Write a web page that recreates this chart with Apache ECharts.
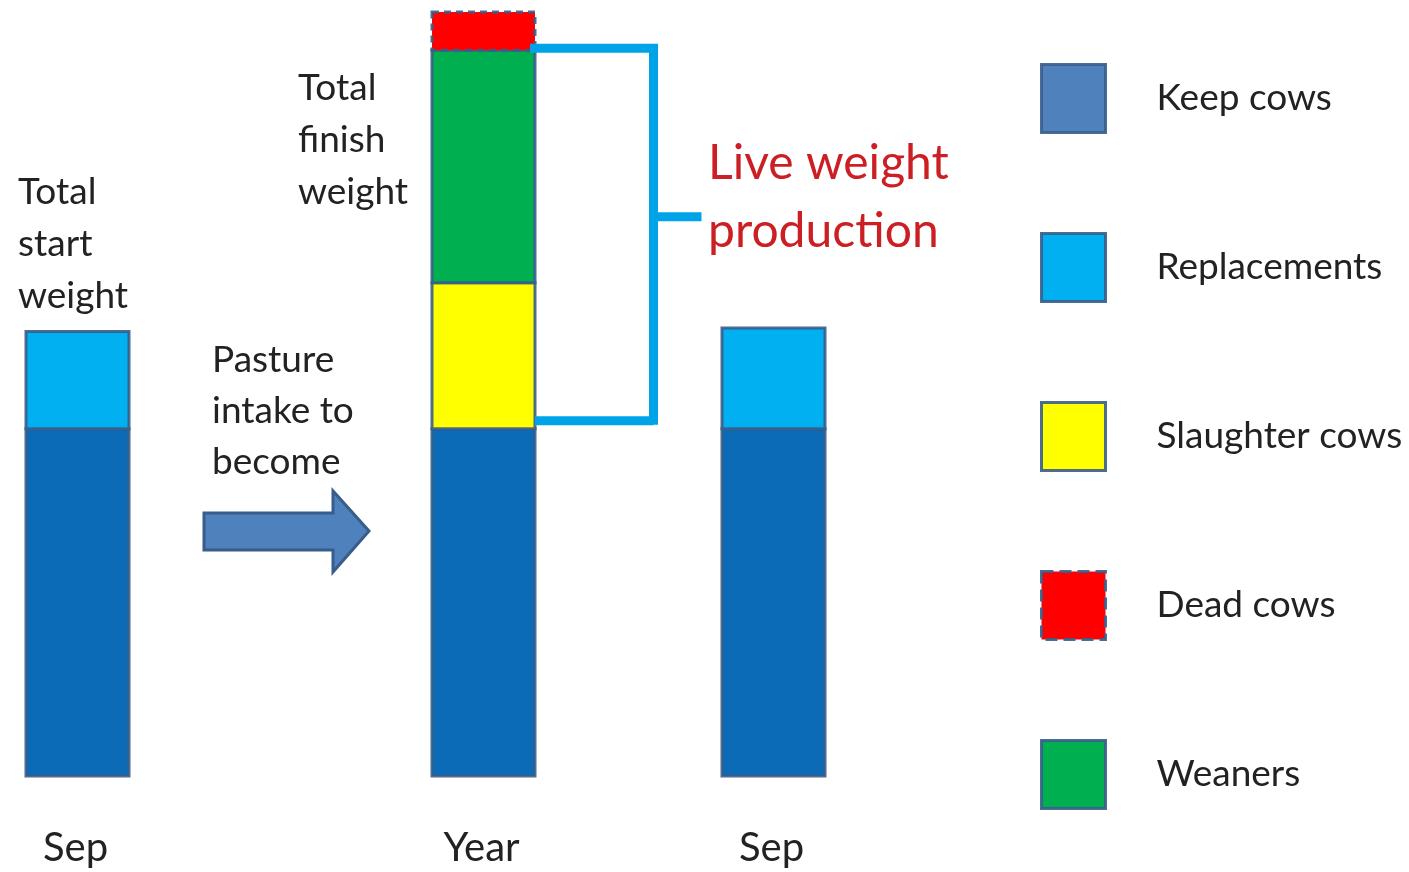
<!DOCTYPE html>
<html>
<head>
<meta charset="utf-8">
<title>Live weight production</title>
<script src="https://cdn.jsdelivr.net/npm/echarts@6/dist/echarts.min.js"></script>
<style>
  html, body { margin: 0; padding: 0; background: #ffffff; }
  #chart { width: 1409px; height: 872px; }
</style>
</head>
<body>
<div id="chart"></div>
<script>
// Columns: start of season, whole year, end of season
const periods = ['Sep', 'Year', 'Sep'];
const periodPos = [0.775, 4.835, 7.735];   // position of each column on the x axis

// Live weight by class of stock (relative units)
const keepCows      = [100, 100, 100];
const replacements  = [28, 0, 29];
const slaughterCows = [0, 42, 0];
const weaners       = [0, 67, 0];
const deadCows      = [0, 11, 0];

const classNames = ['Keep cows', 'Replacements', 'Slaughter cows', 'Weaners', 'Dead cows'];
const classValues = [keepCows, replacements, slaughterCows, weaners, deadCows];
const barColors = ['#0b6bb7', '#00b0f0', '#ffff00', '#00b050', '#ff0000'];
const legendColors = ['#4f81bd', '#00b0f0', '#ffff00', '#00b050', '#ff0000'];
const legendOrder = ['Keep cows', 'Replacements', 'Slaughter cows', 'Dead cows', 'Weaners'];

const FONT = 'Lato, "Open Sans", sans-serif';
const HALF_W = 0.515;
const BORDER = 'rgba(56,93,138,0.9)';
const TEXT = '#222222';

// stack the classes bottom-up for every column
const running = periods.map(() => 0);
const segments = classValues.map(vals => {
  const rows = [];
  vals.forEach((v, i) => {
    if (v > 0) rows.push([periodPos[i], running[i], running[i] + v, i]);
    running[i] += v;
  });
  return rows;
});

function segmentRenderer(color, dashed) {
  return function (params, api) {
    const x = api.value(0);
    const p0 = api.coord([x - HALF_W, api.value(2)]);
    const p1 = api.coord([x + HALF_W, api.value(1)]);
    return {
      type: 'rect',
      shape: { x: p0[0], y: p0[1], width: p1[0] - p0[0], height: p1[1] - p0[1] },
      style: {
        fill: color,
        stroke: BORDER,
        lineWidth: 3,
        lineDash: dashed ? [7, 5] : null
      }
    };
  };
}

const series = classNames.map((name, k) => ({
  type: 'custom',
  name: name,
  data: segments[k],
  encode: { x: 0, y: [1, 2] },
  itemStyle: { color: legendColors[k] },
  renderItem: segmentRenderer(barColors[k], name === 'Dead cows'),
  silent: true,
  z: 2
}));

// bracket marking the production part of the year column (slaughter + weaners)
const yearIdx = 1;
const prodBottom = keepCows[yearIdx];
const prodTop = keepCows[yearIdx] + slaughterCows[yearIdx] + weaners[yearIdx];
series.push({
  type: 'custom',
  name: 'bracket',
  data: [[periodPos[yearIdx], prodBottom, prodTop]],
  encode: { x: 0, y: [1, 2] },
  silent: true,
  z: 3,
  renderItem: function (params, api) {
    const x = api.value(0);
    const top = api.coord([x + HALF_W - 0.05, api.value(2)]);
    const bot = api.coord([x + HALF_W, api.value(1)]);
    const vx = api.coord([x + 1.7, 0])[0];
    const tickX = api.coord([x + 2.18, 0])[0];
    const midY = bot[1] - (bot[1] - top[1]) * 0.56;
    const st = { stroke: '#00a2e8', lineWidth: 9, lineCap: 'butt' };
    return {
      type: 'group',
      children: [
        { type: 'line', shape: { x1: top[0], y1: top[1] - 2, x2: vx + 4.5, y2: top[1] - 2 }, style: st },
        { type: 'line', shape: { x1: vx, y1: top[1] - 6, x2: vx, y2: bot[1] - 4 }, style: st },
        { type: 'line', shape: { x1: bot[0], y1: bot[1] - 8, x2: vx, y2: bot[1] - 8 }, style: st },
        { type: 'line', shape: { x1: vx, y1: midY, x2: tickX, y2: midY }, style: st }
      ]
    };
  }
});

// column names under each column
series.push({
  type: 'custom',
  name: 'periods',
  data: periods.map((p, i) => [periodPos[i], 0, i]),
  encode: { x: 0, y: 1 },
  silent: true,
  renderItem: function (params, api) {
    const pt = api.coord([api.value(0), 0]);
    return {
      type: 'text',
      style: {
        text: periods[api.value(2)],
        x: pt[0] - 2,
        y: pt[1] + 72,
        align: 'center',
        verticalAlign: 'middle',
        fontFamily: FONT,
        fontSize: 40,
        fill: TEXT
      }
    };
  }
});

const chart = echarts.init(document.getElementById('chart'), null, { renderer: 'canvas' });
chart.setOption({
  backgroundColor: '#ffffff',
  animation: false,
  grid: { left: 0, right: 0, top: 12, bottom: 96 },
  xAxis: { type: 'value', min: 0, max: 14.09, show: false },
  yAxis: { type: 'value', min: 0, max: 220, show: false },
  legend: {
    orient: 'vertical',
    left: 1035,
    top: 58,
    itemWidth: 64,
    itemHeight: 68,
    itemGap: 98,
    icon: 'rect',
    selectedMode: false,
    textStyle: { fontFamily: FONT, fontSize: 37, color: TEXT, padding: [4, 0, 0, 46] },
    data: legendOrder.map(n => {
      const k = classNames.indexOf(n);
      return {
        name: n,
        itemStyle: {
          color: legendColors[k],
          borderColor: BORDER,
          borderWidth: 3,
          borderType: n === 'Dead cows' ? 'dashed' : 'solid'
        }
      };
    })
  },
  graphic: [
    {
      type: 'polygon',
      shape: { points: [[204, 513], [333, 513], [333, 491], [369, 531], [333, 572], [333, 550], [204, 550]] },
      style: { fill: '#4f81bd', stroke: '#385d8a', lineWidth: 3 }
    },
    {
      type: 'text', left: 18, top: 166,
      style: { text: 'Total\nstart\nweight', fontFamily: FONT, fontSize: 37, lineHeight: 52, fill: TEXT }
    },
    {
      type: 'text', left: 212, top: 335,
      style: { text: 'Pasture\nintake to\nbecome', fontFamily: FONT, fontSize: 37, lineHeight: 51, fill: TEXT }
    },
    {
      type: 'text', left: 298, top: 62,
      style: { text: 'Total\nfinish\nweight', fontFamily: FONT, fontSize: 37, lineHeight: 52, fill: TEXT }
    },
    {
      type: 'text', left: 708, top: 130,
      style: { text: 'Live weight\nproduction', fontFamily: FONT, fontSize: 48, lineHeight: 68, fill: '#cc1f24' }
    }
  ],
  series: series
});
</script>
</body>
</html>
